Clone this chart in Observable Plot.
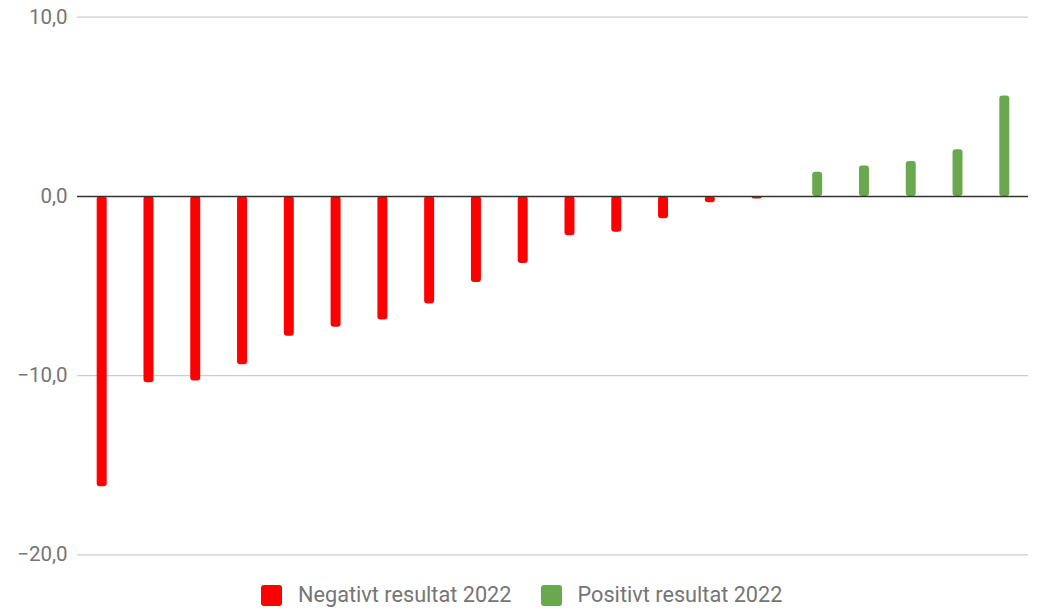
<!DOCTYPE html>
<html>
<head>
<meta charset="utf-8">
<script src="https://cdn.jsdelivr.net/npm/d3@7"></script>
<script src="https://cdn.jsdelivr.net/npm/@observablehq/plot@0.6"></script>
<style>
  html, body { margin: 0; padding: 0; background: #fff; }
  body { width: 1037px; height: 608px; overflow: hidden; position: relative; font-family: Roboto, sans-serif; }
  #legend { position: absolute; top: 584px; left: 261px; display: flex; align-items: center; font-family: Roboto, sans-serif; font-size: 21.7px; line-height: 22px; color: #757575; white-space: nowrap; }
  .item { display: flex; align-items: center; }
  .sw { width: 21px; height: 21px; border-radius: 3px; margin-right: 16px; }
</style>
</head>
<body>
<div id="chart"></div>
<div id="legend"></div>
<script>
const categories = ["1","2","3","4","5","6","7","8","9","10","11","12","13","14","15","16","17","18","19","20"];
const negative = [-16.2, -10.4, -10.3, -9.4, -7.8, -7.3, -6.9, -6.0, -4.8, -3.75, -2.2, -2.0, -1.25, -0.35, -0.15, null, null, null, null, null];
const positive = [null, null, null, null, null, null, null, null, null, null, null, null, null, null, null, 1.35, 1.7, 1.95, 2.6, 5.6];
const seriesNames = ["Negativt resultat 2022", "Positivt resultat 2022"];
const seriesColors = ["#ff0000", "#6aa84f"];
const yTicks = [-20, -10, 0, 10];

const negData = categories.map((c, i) => ({cat: c, v: negative[i]})).filter(d => d.v != null);
const posData = categories.map((c, i) => ({cat: c, v: positive[i]})).filter(d => d.v != null);
const fmt = d => d.toFixed(1).replace(".", ",").replace("-", "\u2212");

const chart = Plot.plot({
  width: 1037,
  height: 572,
  marginLeft: 77,
  marginRight: 9,
  marginTop: 17,
  marginBottom: 18,
  style: {fontFamily: "Roboto, sans-serif", fontSize: "20.5px", color: "#757575", background: "#fff"},
  x: {domain: categories, range: [85.2, 1020.8], padding: 0, round: false, axis: null},
  y: {domain: [-20, 10], range: [554.3, 16.7], ticks: yTicks, tickFormat: fmt, tickSize: 0, tickPadding: 10, label: null},
  marks: [
    Plot.ruleY(yTicks.filter(t => t !== 0), {stroke: "#cccccc", strokeWidth: 1.2, strokeOpacity: 1}),
    Plot.barY(negData, {x: "cat", y: "v", fill: seriesColors[0], insetLeft: 11.5, insetRight: 25.3, rx: 3}),
    Plot.barY(posData, {x: "cat", y: "v", fill: seriesColors[1], insetLeft: 25.3, insetRight: 11.5, rx: 3}),
    Plot.ruleY([0], {stroke: "#333333", strokeWidth: 1.5})
  ]
});
document.getElementById("chart").appendChild(chart);

const legend = document.getElementById("legend");
seriesNames.forEach((name, i) => {
  const item = document.createElement("div");
  item.className = "item";
  if (i > 0) item.style.marginLeft = "29px";
  const sw = document.createElement("div");
  sw.className = "sw";
  sw.style.background = seriesColors[i];
  const tx = document.createElement("span");
  tx.textContent = name;
  item.appendChild(sw);
  item.appendChild(tx);
  legend.appendChild(item);
});
</script>
</body>
</html>
